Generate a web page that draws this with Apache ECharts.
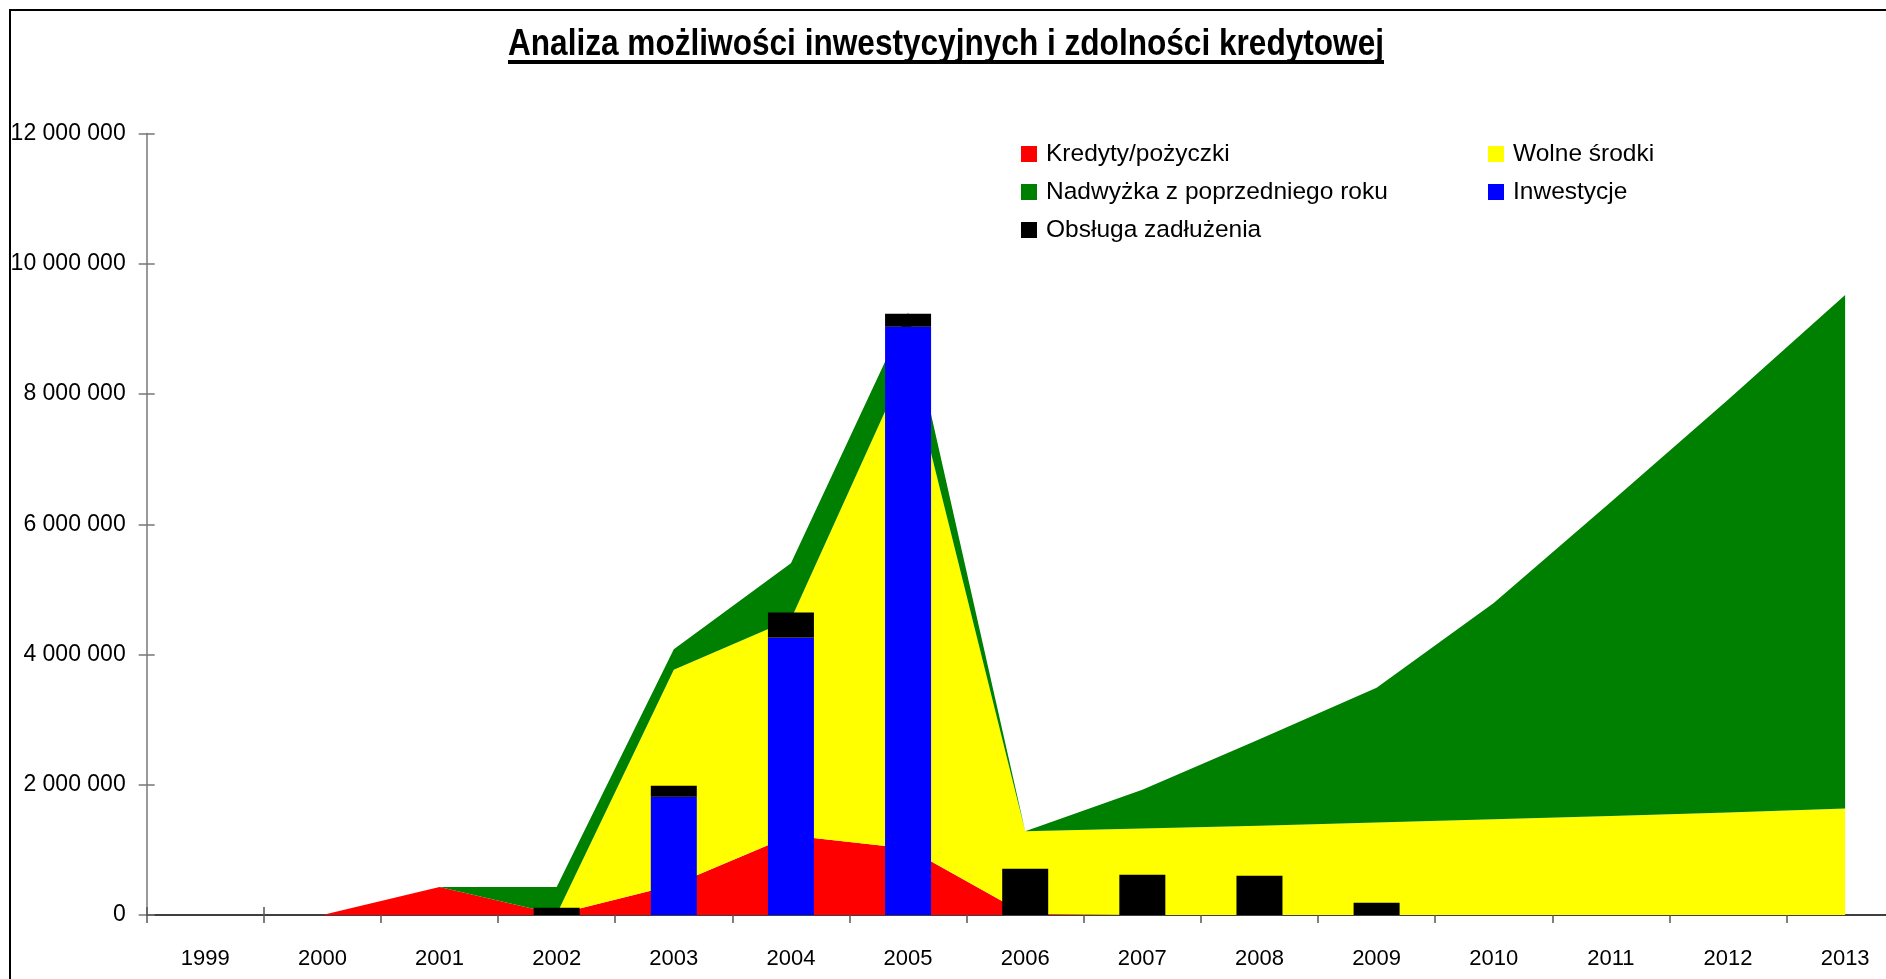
<!DOCTYPE html>
<html>
<head>
<meta charset="utf-8">
<script src="https://cdn.jsdelivr.net/npm/echarts@6/dist/echarts.min.js"></script>
<style>
html,body{margin:0;padding:0;background:#fff;}
#chart{width:1886px;height:979px;}
</style>
</head>
<body>
<div id="chart"></div>
<script>
// ---- data ----
const years = ['1999','2000','2001','2002','2003','2004','2005','2006','2007','2008','2009','2010','2011','2012','2013'];
const kredyty     = [0, 0, 430000, 10000, 460000, 1220000, 1020000, 15000, 0, 0, 0, 0, 0, 0, 0];
const wolneSrodki = [0, 0, 0, 0, 3306000, 3320000, 7490000, 1270000, 1330000, 1370000, 1420000, 1470000, 1520000, 1575000, 1634000];
const nadwyzka    = [0, 0, 0, 420000, 314000, 860000, 740000, 0, 594000, 1330000, 2070000, 3320000, 4820000, 6335000, 7886000];
const inwestycje  = [0, 0, 0, 0, 1817000, 4260000, 9034000, 0, 0, 0, 0, 0, 0, 0, 0];
const obsluga     = [0, 0, 0, 110000, 168000, 386000, 199000, 711000, 619000, 604000, 189000, 0, 0, 0, 0];
const yTicks = { min: 0, max: 12000000, interval: 2000000 };
const titleText = 'Analiza możliwości inwestycyjnych i zdolności kredytowej';
const names = ['Kredyty/pożyczki', 'Wolne środki', 'Nadwyżka z poprzedniego roku', 'Inwestycje', 'Obsługa zadłużenia'];

const FONT = "'Liberation Sans', Arial, sans-serif";

function fmt(v){ return String(v).replace(/\B(?=(\d{3})+(?!\d))/g, ' '); }

// measure title width to fit the reference title width (condensed look)
const cv = document.createElement('canvas').getContext('2d');
const titleSize = 36;
cv.font = 'bold ' + titleSize + 'px ' + FONT;
const titleW = cv.measureText(titleText).width;
const titleTargetW = 876;
const titleScale = titleTargetW / titleW;
const titleCx = 946;

const chart = echarts.init(document.getElementById('chart'), null, {renderer: 'canvas'});

const areaCommon = {
  type: 'line', stack: 'area', symbol: 'none', showSymbol: false,
  lineStyle: { width: 0 }, z: 1, animation: false
};

const legendCommon = {
  orient: 'vertical', top: 140, itemGap: 10, padding: 0,
  itemWidth: 16, itemHeight: 16, icon: 'rect',
  selectedMode: false,
  textStyle: { fontFamily: FONT, fontSize: 24.5, color: '#000', lineHeight: 28, padding: [0,0,0,4] }
};

chart.setOption({
  animation: false,
  backgroundColor: '#fff',
  grid: { left: 146.7, top: 133.5, width: 1757, height: 781.5, containLabel: false, outerBoundsMode: 'none' },
  legend: [
    Object.assign({}, legendCommon, { data: [names[0], names[2], names[4]], left: 1021 }),
    Object.assign({}, legendCommon, { data: [names[1], names[3]], left: 1488 })
  ],
  xAxis: [
    {
      type: 'category', data: years, boundaryGap: true, position: 'bottom',
      axisLine: { lineStyle: { color: '#000', width: 1.5 } },
      axisTick: { show: true, inside: false, length: 8, lineStyle: { color: '#555', width: 1.5 } },
      axisLabel: { interval: 0, margin: 33, fontFamily: FONT, fontSize: 22, color: '#000' },
      splitLine: { show: false }
    },
    {
      type: 'category', data: years, boundaryGap: true, position: 'bottom', offset: 0,
      axisLine: { show: false },
      axisTick: { show: true, inside: true, length: 8, lineStyle: { color: '#555', width: 1.5 } },
      axisLabel: { show: false },
      splitLine: { show: false }
    }
  ],
  yAxis: [
    {
      type: 'value', min: yTicks.min, max: yTicks.max, interval: yTicks.interval, position: 'left',
      axisLine: { show: true, lineStyle: { color: '#777', width: 1.5 } },
      axisTick: { show: true, inside: false, length: 8, lineStyle: { color: '#777', width: 1.5 } },
      axisLabel: { margin: 21, fontFamily: FONT, fontSize: 23, color: '#000', formatter: fmt },
      splitLine: { show: false }
    },
    {
      type: 'value', min: yTicks.min, max: yTicks.max, interval: yTicks.interval, position: 'left', offset: 0,
      axisLine: { show: false },
      axisTick: { show: true, inside: true, length: 8, lineStyle: { color: '#777', width: 1.5 } },
      axisLabel: { show: false },
      splitLine: { show: false }
    }
  ],
  series: [
    Object.assign({}, areaCommon, { name: names[0], data: kredyty, itemStyle: { color: '#FF0000' }, areaStyle: { color: '#FF0000', opacity: 1 } }),
    Object.assign({}, areaCommon, { name: names[1], data: wolneSrodki, itemStyle: { color: '#FFFF00' }, areaStyle: { color: '#FFFF00', opacity: 1 } }),
    Object.assign({}, areaCommon, { name: names[2], data: nadwyzka, itemStyle: { color: '#008000' }, areaStyle: { color: '#008000', opacity: 1 } }),
    { name: names[3], type: 'bar', stack: 'bar', data: inwestycje, barWidth: 46, z: 3, itemStyle: { color: '#0000FF' } },
    { name: names[4], type: 'bar', stack: 'bar', data: obsluga, barWidth: 46, z: 3, itemStyle: { color: '#000000' } }
  ],
  graphic: [
    { type: 'rect', shape: { x: 10, y: 10, width: 2000, height: 2000 }, style: { fill: 'none', stroke: '#000', lineWidth: 2 }, silent: true, z: 100 },
    { type: 'text', x: titleCx, y: 45, scaleX: titleScale, style: { text: titleText, fontFamily: FONT, fontWeight: 'bold', fontSize: titleSize, fill: '#000', align: 'center', verticalAlign: 'middle' }, z: 100 },
    { type: 'rect', shape: { x: titleCx - titleTargetW / 2, y: 60, width: titleTargetW, height: 4 }, style: { fill: '#000' }, z: 100 }
  ]
});
</script>
</body>
</html>
